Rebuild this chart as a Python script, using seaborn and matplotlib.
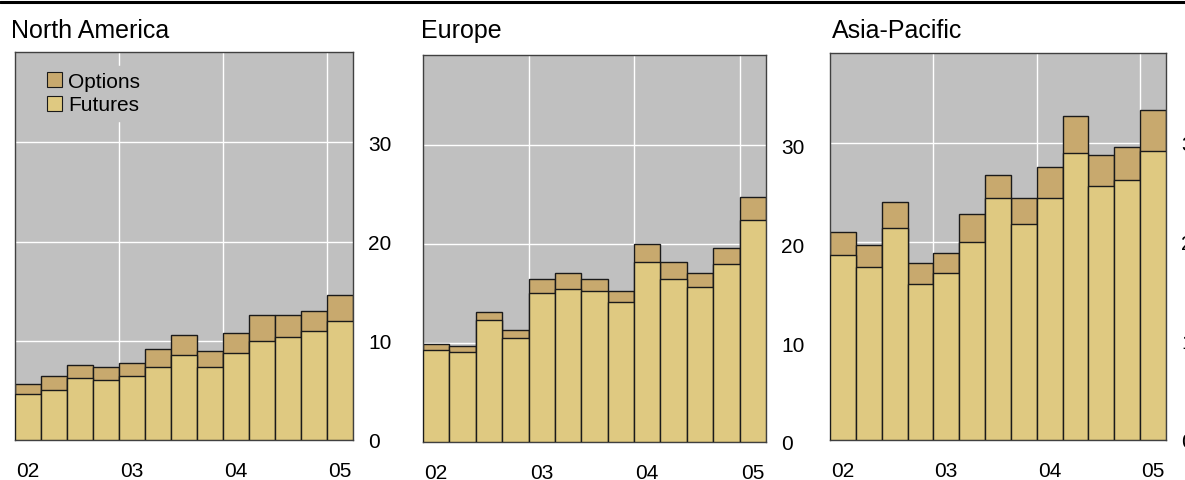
import seaborn as sns
import matplotlib.pyplot as plt
from matplotlib.patches import Patch
from matplotlib.lines import Line2D

# data, quarterly 2002Q1 - 2005Q1
quarters = ['2002Q1', '2002Q2', '2002Q3', '2002Q4', '2003Q1', '2003Q2', '2003Q3',
            '2003Q4', '2004Q1', '2004Q2', '2004Q3', '2004Q4', '2005Q1']
year_labels = ['02', '03', '04', '05']
regions = ['North America', 'Europe', 'Asia-Pacific']

na_futures = [4.6, 5.0, 6.2, 6.0, 6.4, 7.4, 8.6, 7.4, 8.8, 10.0, 10.4, 11.0, 12.0]
na_total = [5.6, 6.4, 7.6, 7.4, 7.8, 9.2, 10.6, 9.0, 10.8, 12.6, 12.6, 13.0, 14.6]
eu_futures = [9.3, 9.1, 12.3, 10.5, 15.1, 15.5, 15.3, 14.1, 18.2, 16.5, 15.7, 18.0, 22.4]
eu_total = [9.9, 9.7, 13.1, 11.3, 16.5, 17.1, 16.5, 15.3, 20.0, 18.2, 17.1, 19.6, 24.8]
ap_futures = [18.7, 17.5, 21.4, 15.7, 16.9, 20.0, 24.4, 21.8, 24.4, 29.0, 25.6, 26.2, 29.2]
ap_total = [21.0, 19.7, 24.0, 17.9, 18.9, 22.8, 26.8, 24.4, 27.6, 32.7, 28.8, 29.6, 33.3]

futures = [na_futures, eu_futures, ap_futures]
totals = [na_total, eu_total, ap_total]

FUT_COL = '#dfc981'
OPT_COL = '#c8a96e'
BG = '#c0c0c0'

sns.set_style('whitegrid', {'axes.facecolor': BG, 'grid.color': 'white',
                            'axes.edgecolor': '#404040', 'text.color': 'black',
                            'xtick.color': 'black', 'ytick.color': 'black'})
plt.rcParams['font.family'] = ['Liberation Sans', 'DejaVu Sans']

W, H = 1185, 481
fig = plt.figure(figsize=(W / 100, H / 100), dpi=100)

# axes boxes in pixels: left, right, top, bottom
boxes = [(15, 353, 53, 441), (423, 766, 56, 443), (830, 1166, 53.7, 441)]
title_x = [11, 421, 832]

for i, (l, r, t, b) in enumerate(boxes):
    ax = fig.add_axes([l / W, 1 - b / H, (r - l) / W, (b - t) / H])
    # options drawn as the full stack height, futures over it
    sns.barplot(x=quarters, y=totals[i], color=OPT_COL, saturation=1, width=1,
                edgecolor='#1a1a1a', linewidth=1, ax=ax, zorder=2)
    sns.barplot(x=quarters, y=futures[i], color=FUT_COL, saturation=1, width=1,
                edgecolor='#1a1a1a', linewidth=1, ax=ax, zorder=3)
    ax.set_xlim(-0.5, 12.5)
    ax.set_ylim(0, 39.1)
    ax.set_axisbelow(True)
    ax.set_xticks([0, 4, 8, 12])
    ax.set_xticklabels(year_labels)
    ax.set_xticks([3.5, 7.5, 11.5], minor=True)
    ax.grid(False)
    ax.grid(True, which='minor', axis='x', color='white', linewidth=1)
    ax.grid(True, which='major', axis='y', color='white', linewidth=1)
    ax.set_yticks([0, 10, 20, 30])
    ax.yaxis.tick_right()
    ax.tick_params(axis='both', which='both', length=0, labelsize=15)
    ax.tick_params(axis='y', pad=11)
    ax.tick_params(axis='x', pad=15)
    ax.set_xlabel('')
    ax.set_ylabel('')
    for s in ax.spines.values():
        s.set_linewidth(1)
    fig.text(title_x[i] / W, 1 - 38 / H, regions[i], fontsize=18, va='baseline')

    if i == 0:
        handles = [Patch(facecolor=OPT_COL, edgecolor='#1a1a1a', linewidth=0.8),
                   Patch(facecolor=FUT_COL, edgecolor='#1a1a1a', linewidth=0.8)]
        leg = ax.legend(handles, ['Options', 'Futures'], loc='upper left',
                        bbox_to_anchor=(0.075, 0.965), borderaxespad=0,
                        fontsize=15, handlelength=0.72, handleheight=0.72,
                        handletextpad=0.3, labelspacing=0.22, borderpad=0.3,
                        frameon=True, facecolor=BG, edgecolor=BG, framealpha=1,
                        fancybox=False)

# rule along the top
fig.add_artist(Line2D([0, 1], [1 - 3 / H, 1 - 3 / H], color='black', linewidth=2.2))

fig.savefig('out.png', dpi=100)
